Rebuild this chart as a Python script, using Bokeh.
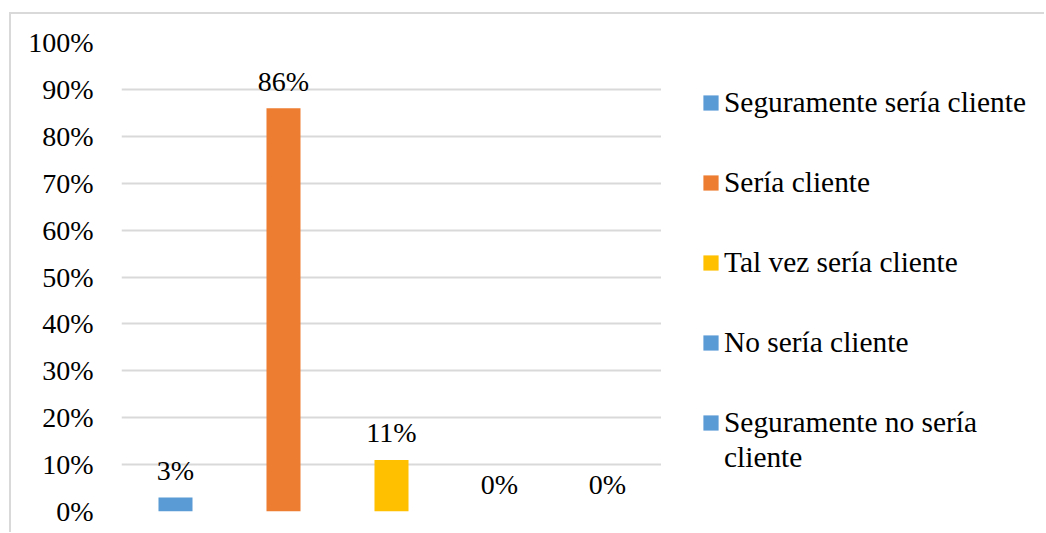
from bokeh.plotting import figure
from bokeh.layouts import row
from bokeh.models import (ColumnDataSource, FactorRange, Range1d, FixedTicker,
                          NumeralTickFormatter, Legend, LegendItem)
from bokeh.core.properties import value
from bokeh.embed import file_html
from bokeh.resources import INLINE

categories = ["Seguramente sería cliente", "Sería cliente", "Tal vez sería cliente",
              "No sería cliente", "Seguramente no sería cliente"]
legend_labels = ["Seguramente sería cliente", "Sería cliente", "Tal vez sería cliente",
                 "No sería cliente", "Seguramente no sería"]
legend_tail = "cliente"
values = [0.03, 0.86, 0.11, 0.0, 0.0]
colors = ["#5B9BD5", "#ED7D31", "#FFC000", "#5B9BD5", "#5B9BD5"]
y_ticks = [0.0, 0.1, 0.2, 0.3, 0.4, 0.5, 0.6, 0.7, 0.8, 0.9, 1.0]

FONT = "Liberation Serif"
FS = "28px"
LFS = "29.4px"

H = 518
src = ColumnDataSource(dict(cat=categories, val=values,
                            lab=[f"{round(v*100)}%" for v in values]))

p = figure(x_range=FactorRange(*categories), y_range=Range1d(0, 1.0),
           width=650, height=H, output_backend="svg", toolbar_location=None,
           min_border_left=110, min_border_right=0, min_border_top=28, min_border_bottom=21)
p.outline_line_color = None
p.xaxis.visible = False
p.xgrid.grid_line_color = None
p.ygrid.grid_line_color = "#d9d9d9"
p.ygrid.grid_line_width = 2
p.ygrid.ticker = FixedTicker(ticks=y_ticks)

ax = p.yaxis[0]
ax.ticker = FixedTicker(ticks=y_ticks)
ax.formatter = NumeralTickFormatter(format="0%")
ax.axis_line_color = None
ax.major_tick_line_color = None
ax.minor_tick_line_color = None
ax.major_tick_out = 0
ax.major_tick_in = 0
ax.major_label_standoff = 28
ax.major_label_text_font = FONT
ax.major_label_text_font_size = FS
ax.major_label_text_color = "#000000"

sources = []
for i in range(len(categories)):
    s = ColumnDataSource(dict(cat=[categories[i]], val=[values[i]]))
    sources.append(s)
    p.vbar(x="cat", top="val", width=0.315, source=s, fill_color=colors[i], line_color=None)

p.text(x="cat", y="val", text="lab", source=src, text_align="center",
       text_baseline="middle", y_offset=-27, text_font=value(FONT),
       text_font_size=FS, text_color="#000000")

# legend panel: hidden proxy bars provide the legend swatches
p2 = figure(width=383, height=H, output_backend="svg", toolbar_location=None,
            x_axis_type=None, y_axis_type=None,
            x_range=FactorRange(*categories), y_range=Range1d(0, 1),
            min_border_left=0, min_border_right=0, min_border_top=0, min_border_bottom=0)
p2.outline_line_color = None
p2.grid.visible = False

proxies = []
for i in range(len(categories)):
    r = p2.vbar(x="cat", top="val", width=0.3, source=sources[i],
                fill_color=colors[i], line_color=None)
    r.visible = False
    proxies.append(r)

common = dict(margin=0, padding=0, glyph_width=19, glyph_height=19, label_standoff=4,
              label_text_font=FONT, label_text_font_size=LFS, label_text_color="#000000",
              label_height=40, spacing=40, border_line_color=None, background_fill_alpha=0,
              inactive_fill_alpha=0, click_policy="none")

legend = Legend(items=[LegendItem(label=legend_labels[i], renderers=[proxies[i]])
                       for i in range(len(categories))], location=(40, 69), **common)
p2.add_layout(legend, "center")
legend2 = Legend(items=[LegendItem(label=legend_tail, renderers=[])], location=(40, 34), **common)
p2.add_layout(legend2, "center")

root = row(p, p2, spacing=0)
root.margin = (12, 0, 0, 9)
root.styles = {"border-top": "2px solid #d9d9d9", "border-left": "2px solid #d9d9d9"}

open("out.html", "w").write(file_html(root, INLINE))
